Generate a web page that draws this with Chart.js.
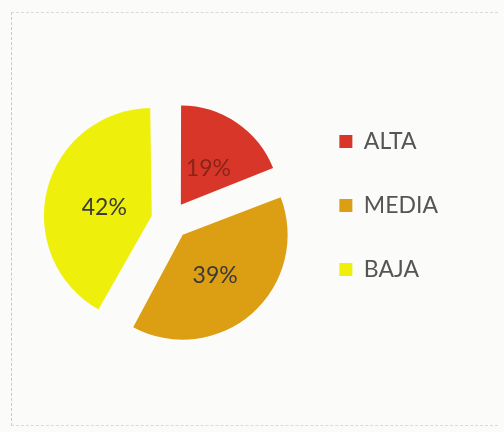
<!DOCTYPE html>
<html>
<head>
<meta charset="utf-8">
<script src="https://cdn.jsdelivr.net/npm/chart.js@4.4.0/dist/chart.umd.min.js"></script>
<style>
  html, body { margin: 0; padding: 0; background: #fbfbfa; }
  #wrap {
    position: relative; width: 504px; height: 432px;
    box-sizing: border-box;
  }
  #frame {
    position: absolute; left: 11px; top: 12px; width: 486px; height: 412px;
    border-left: 1px dashed #c8c8c8; border-top: 1px dashed #dadada; border-bottom: 1px dashed #dadada;
  }
  canvas { position: absolute; left: 0; top: 0; }
</style>
</head>
<body>
<div id="wrap">
  <div id="frame"></div>
  <canvas id="pieChart" width="504" height="432"></canvas>
</div>
<script>
const categories = ["ALTA", "MEDIA", "BAJA"];
const percentages = [19, 39, 42];
const sliceColors = ["#d9362a", "#dc9e12", "#eef00c"];
const labelColors = ["#8a2418", "#3a3a3a", "#3a3a3a"];
const explode = 76; // Chart.js mueve la porción offset/4 px

// porcentajes sobre cada porción (incluye el desplazamiento)
const pctLabels = {
  id: "pctLabels",
  afterDatasetsDraw(chart) {
    const ctx = chart.ctx;
    const meta = chart.getDatasetMeta(0);
    const data = chart.data.datasets[0].data;
    const total = data.reduce((a, b) => a + b, 0);
    ctx.save();
    ctx.font = "23px Lato";
    ctx.textAlign = "center";
    ctx.textBaseline = "middle";
    meta.data.forEach((arc, i) => {
      const mid = (arc.startAngle + arc.endAngle) / 2;
      const r = arc.outerRadius / 2 + explode / 4;
      ctx.fillStyle = labelColors[i];
      ctx.fillText(Math.round(data[i] / total * 100) + "%",
        arc.x + Math.cos(mid) * r, arc.y + Math.sin(mid) * r + 4);
    });
    ctx.restore();
  }
};

new Chart(document.getElementById("pieChart"), {
  type: "pie",
  data: {
    labels: categories,
    datasets: [{
      data: percentages,
      backgroundColor: sliceColors,
      borderWidth: 0,
      offset: explode,
      radius: 98,
      clip: false
    }]
  },
  options: {
    responsive: false,
    animation: false,
    layout: {
      padding: { left: 42, right: 56, top: 89, bottom: 80 }
    },
    plugins: {
      legend: {
        position: "right",
        align: "start",
        labels: {
          boxWidth: 13,
          boxHeight: 13,
          padding: 41,
          color: "#555555",
          font: { family: "Lato", size: 23 }
        }
      },
      tooltip: { enabled: false }
    }
  },
  plugins: [pctLabels]
});
</script>
</body>
</html>
